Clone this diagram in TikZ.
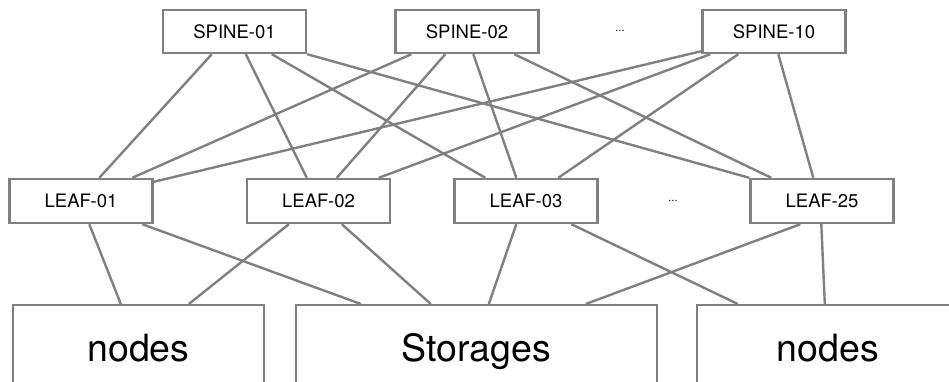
\documentclass[tikz,border=0pt]{standalone}
\usepackage{fontspec}
\setmainfont{TeX Gyre Heros}
\definecolor{linkgray}{RGB}{128,128,128}
\begin{document}
\begin{tikzpicture}[x=1pt,y=-1pt,
  switchbox/.style={draw=linkgray, line width=2.4pt, rectangle, minimum width=143pt, minimum height=43pt, inner sep=0pt, font=\fontsize{18.5}{20}\selectfont},
  hostbox/.style={draw=linkgray, line width=2.4pt, rectangle, anchor=north, inner xsep=0pt, inner ysep=0pt, text height=56pt, text depth=130pt, font=\fontsize{37.5}{40}\selectfont},
  link/.style={draw=linkgray, line width=2.4pt}]
\clip (0,0) rectangle (949,382);
% spine row
\node[switchbox] (s1) at (234.5,31.5) {SPINE-01};
\node[switchbox] (s2) at (467,31.5) {SPINE-02};
\node[switchbox] (s10) at (774,31.5) {SPINE-10};
\node[font=\fontsize{11}{12}\selectfont] (sdots) at (620,31) {...};
% leaf row
\node[switchbox, minimum height=44pt] (l1) at (81,201) {LEAF-01};
\node[switchbox, minimum height=44pt] (l2) at (318.5,201) {LEAF-02};
\node[switchbox, minimum height=44pt] (l3) at (526,201) {LEAF-03};
\node[switchbox, minimum height=44pt] (l25) at (822,201) {LEAF-25};
\node[font=\fontsize{11}{12}\selectfont] (ldots) at (673,201) {...};
% hosts
\node[hostbox, minimum width=251pt] (n1) at (138.5,304) {nodes};
\node[hostbox, minimum width=361pt] (st) at (476.5,304) {Storages};
\node[hostbox, minimum width=262pt] (n2) at (828,304) {nodes};
% spine to leaf
\draw[link] ([xshift=50pt]s1.south west) -- ([xshift=91pt]l1.north west);
\draw[link] ([xshift=84pt]s1.south west) -- ([xshift=61pt]l2.north west);
\draw[link] ([xshift=110pt]s1.south west) -- ([xshift=32pt]l3.north west);
\draw[link] (s1.south east) -- (l25.north west);
\draw[link] ([xshift=17pt]s2.south west) -- ([xshift=124pt]l1.north west);
\draw[link] ([xshift=51pt]s2.south west) -- ([xshift=91pt]l2.north west);
\draw[link] ([xshift=79pt]s2.south west) -- ([xshift=63pt]l3.north west);
\draw[link] ([xshift=120pt]s2.south west) -- ([xshift=22pt]l25.north west);
\draw[link] ([yshift=3pt]s10.south west) -- ([yshift=-4pt]l1.north east);
\draw[link] ([xshift=9pt]s10.south west) -- ([xshift=133pt]l2.north west);
\draw[link] ([xshift=37pt]s10.south west) -- ([xshift=105pt]l3.north west);
\draw[link] ([xshift=77pt]s10.south west) -- ([xshift=64pt]l25.north west);
% leaf to hosts
\draw[link] ([xshift=81pt]l1.south west) -- ([xshift=109pt]n1.north west);
\draw[link] ([xshift=134pt]l1.south west) -- ([xshift=66pt]st.north west);
\draw[link] ([xshift=43pt]l2.south west) -- ([xshift=177pt]n1.north west);
\draw[link] ([xshift=96pt]l2.south west) -- ([xshift=136pt]st.north west);
\draw[link] ([xshift=63pt]l3.south west) -- ([xshift=194pt]st.north west);
\draw[link] ([xshift=118pt]l3.south west) -- ([xshift=42pt]n2.north west);
\draw[link] ([xshift=51pt]l25.south west) -- ([xshift=291pt]st.north west);
\draw[link] ([xshift=72pt]l25.south west) -- ([xshift=129pt]n2.north west);
\end{tikzpicture}
\end{document}
